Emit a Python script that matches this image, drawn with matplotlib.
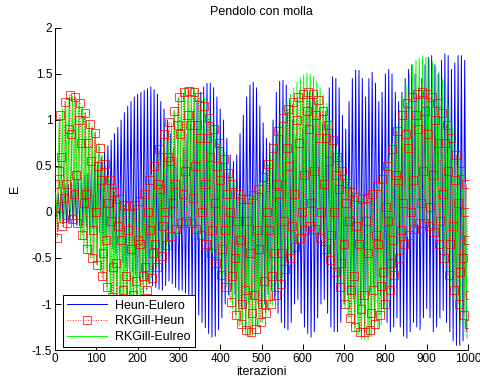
import numpy as np
import matplotlib
matplotlib.use("Agg")
import matplotlib.pyplot as plt

plt.rcParams['font.family'] = ['Liberation Sans', 'DejaVu Sans']

# Heun-Eulero: massimi (iter 0, 8, 16, ...) e minimi (iter 4, 12, 20, ...)
blue_alti = [
    0.1, 0.2, 0.25, 0.3, 0.3, 0.32, 0.35, 0.35, 0.38, 0.4,
    0.42, 0.45, 0.5, 0.55, 0.6, 0.65, 0.72, 0.78, 0.85, 0.92,
    1.0, 1.08, 1.15, 1.2, 1.25, 1.28, 1.3, 1.32, 1.34, 1.36,
    1.33, 1.28, 1.2, 1.12, 1.0, 0.85, 0.7, 0.6, 0.6, 0.7,
    0.85, 0.95, 1.1, 1.22, 1.3, 1.36, 1.4, 1.4, 1.35, 1.25,
    1.12, 1.0, 0.8, 0.62, 0.55, 0.62, 0.85, 1.05, 1.25, 1.38,
    1.41, 1.35, 1.15, 0.97, 0.8, 0.75, 1.0, 1.3, 1.42, 1.43,
    1.38, 1.2, 1.0, 0.85, 0.8, 0.9, 1.1, 1.25, 1.3, 1.2,
    1.05, 0.95, 1.1, 1.35, 1.47, 1.45, 1.35, 1.05, 0.9, 1.2,
    1.45, 1.54, 1.54, 1.45, 1.25, 1.45, 1.52, 1.4, 1.2, 1.3,
    1.5, 1.55, 1.5, 1.3, 1.2, 1.3, 1.45, 1.55, 1.6, 1.5,
    1.35, 1.45, 1.6, 1.68, 1.7, 1.6, 1.5, 1.65, 1.72, 1.7,
    1.55, 1.62, 1.7, 1.7, 1.65]
blue_bassi = [
    -0.05, -0.1, -0.12, -0.12, -0.12, -0.13, -0.14, -0.15, -0.15, -0.16,
    -0.17, -0.18, -0.2, -0.22, -0.25, -0.3, -0.35, -0.4, -0.45, -0.5,
    -0.55, -0.6, -0.62, -0.65, -0.68, -0.7, -0.72, -0.75, -0.78, -0.8,
    -0.82, -0.84, -0.85, -0.8, -0.75, -0.78, -0.82, -0.85, -0.85, -0.88,
    -0.92, -0.98, -1.05, -1.12, -1.2, -1.26, -1.32, -1.36, -1.35, -1.28,
    -1.15, -1.0, -0.9, -0.85, -0.9, -1.0, -1.05, -1.05, -1.0, -0.95,
    -0.95, -1.0, -1.05, -1.0, -0.9, -0.85, -0.95, -1.1, -1.2, -1.26,
    -1.28, -1.2, -1.0, -0.95, -1.1, -1.25, -1.32, -1.36, -1.3, -1.15,
    -1.0, -0.95, -1.1, -1.25, -1.3, -1.3, -1.2, -1.0, -0.9, -0.9,
    -0.95, -1.0, -1.0, -0.95, -0.9, -0.85, -0.82, -0.8, -0.9, -1.05,
    -1.2, -1.3, -1.25, -1.15, -1.25, -1.35, -1.37, -1.3, -1.2, -1.25,
    -1.28, -1.15, -1.05, -1.15, -1.3, -1.25, -1.15, -1.07, -1.2, -1.3,
    -1.4, -1.45, -1.45, -1.4, -1.3]

# RKGill-Eulreo: massimi (iter 2, 10, ...) e minimi (iter 6, 14, ...)
green_alti = [
    0.2, 1.0, 1.12, 1.2, 1.25, 1.26, 1.25, 1.2, 1.15, 1.08,
    1.0, 0.93, 0.87, 0.75, 0.62, 0.5, 0.4, 0.3, 0.22, 0.15,
    0.1, 0.08, 0.06, 0.06, 0.08, 0.1, 0.15, 0.22, 0.3, 0.4,
    0.5, 0.6, 0.7, 0.78, 0.86, 0.97, 1.1, 1.24, 1.32, 1.35,
    1.36, 1.36, 1.35, 1.33, 1.3, 1.24, 1.15, 1.05, 0.95, 0.85,
    0.75, 0.65, 0.53, 0.42, 0.34, 0.28, 0.22, 0.18, 0.16, 0.17,
    0.2, 0.25, 0.32, 0.42, 0.52, 0.63, 0.75, 0.87, 0.98, 1.1,
    1.2, 1.28, 1.35, 1.41, 1.46, 1.49, 1.51, 1.5, 1.47, 1.42,
    1.35, 1.27, 1.18, 1.0, 0.82, 0.7, 0.6, 0.5, 0.4, 0.32,
    0.25, 0.2, 0.17, 0.15, 0.15, 0.18, 0.22, 0.27, 0.32, 0.38,
    0.48, 0.6, 0.75, 0.92, 1.1, 1.24, 1.38, 1.5, 1.6, 1.65,
    1.67, 1.69, 1.68, 1.66, 1.63, 1.58, 1.52, 1.45, 1.38, 1.15,
    0.95, 0.78, 0.62, 0.45, 0.32]
green_bassi = [
    -0.2, -0.12, -0.08, -0.05, -0.03, -0.05, -0.15, -0.3, -0.38, -0.45,
    -0.5, -0.54, -0.58, -0.65, -0.75, -0.85, -0.92, -0.98, -1.02, -1.05,
    -1.07, -1.08, -1.08, -1.06, -1.03, -0.98, -0.92, -0.85, -0.77, -0.68,
    -0.6, -0.53, -0.46, -0.4, -0.35, -0.3, -0.25, -0.2, -0.16, -0.15,
    -0.16, -0.2, -0.25, -0.28, -0.3, -0.33, -0.38, -0.44, -0.5, -0.6,
    -0.7, -0.8, -0.92, -1.05, -1.16, -1.24, -1.3, -1.34, -1.36, -1.35,
    -1.32, -1.26, -1.2, -1.14, -1.08, -1.02, -0.94, -0.84, -0.74, -0.62,
    -0.52, -0.45, -0.4, -0.33, -0.25, -0.18, -0.15, -0.14, -0.16, -0.22,
    -0.3, -0.4, -0.48, -0.55, -0.65, -0.78, -0.9, -1.05, -1.15, -1.25,
    -1.3, -1.34, -1.38, -1.39, -1.39, -1.36, -1.32, -1.28, -1.22, -1.12,
    -1.0, -0.85, -0.7, -0.56, -0.44, -0.34, -0.27, -0.21, -0.16, -0.13,
    -0.12, -0.12, -0.14, -0.18, -0.24, -0.32, -0.42, -0.55, -0.68, -0.82,
    -0.95, -1.08, -1.2, -1.3, -1.37]

# RKGill-Heun: per ogni ciclo di 12 iterazioni -> alto, medio, basso, medio
red_alti = [
    0.3, 1.05, 1.2, 1.27, 1.25, 1.18, 1.08, 0.96, 0.86, 0.7,
    0.52, 0.35, 0.22, 0.14, 0.08, 0.06, 0.08, 0.12, 0.2, 0.35,
    0.5, 0.68, 0.85, 0.98, 1.1, 1.25, 1.3, 1.32, 1.3, 1.25,
    1.15, 1.02, 0.9, 0.75, 0.58, 0.42, 0.3, 0.2, 0.14, 0.14,
    0.18, 0.25, 0.38, 0.52, 0.7, 0.88, 1.02, 1.12, 1.2, 1.25,
    1.28, 1.3, 1.28, 1.22, 1.1, 0.95, 0.78, 0.6, 0.45, 0.32,
    0.22, 0.16, 0.14, 0.15, 0.2, 0.28, 0.36, 0.5, 0.68, 0.88,
    1.05, 1.18, 1.25, 1.28, 1.3, 1.28, 1.25, 1.18, 1.08, 0.95,
    0.8, 0.62, 0.45, 0.3]
red_medi = [
    0.05, 0.6, 0.3, 0.85, 0.4, 0.75, 0.2, 0.55, 0.0, 0.35,
    -0.3, -0.1, -0.55, -0.3, -0.7, -0.4, -0.75, -0.35, -0.6, -0.2,
    -0.35, 0.25, 0.0, 0.55, 0.3, 0.85, 0.45, 0.95, 0.5, 0.8,
    0.3, 0.6, 0.1, 0.35, -0.2, 0.0, -0.5, -0.3, -0.85, -0.45,
    -0.9, -0.4, -0.75, -0.2, -0.45, 0.2, -0.1, 0.5, 0.2, 0.75,
    0.4, 0.9, 0.45, 0.8, 0.3, 0.55, 0.0, 0.25, -0.35, -0.1,
    -0.7, -0.35, -0.9, -0.45, -0.85, -0.35, -0.65, -0.1, -0.3, 0.35,
    0.1, 0.7, 0.35, 0.9, 0.45, 0.85, 0.4, 0.75, 0.2, 0.45,
    -0.15, 0.1, -0.5, -0.3]
red_bassi = [
    -0.28, -0.15, -0.12, -0.08, -0.12, -0.25, -0.4, -0.5, -0.58, -0.7,
    -0.82, -0.92, -1.0, -1.05, -1.07, -1.06, -1.02, -0.95, -0.85, -0.72,
    -0.6, -0.48, -0.36, -0.26, -0.18, -0.12, -0.1, -0.12, -0.18, -0.25,
    -0.35, -0.45, -0.55, -0.68, -0.82, -0.98, -1.12, -1.22, -1.28, -1.3,
    -1.27, -1.2, -1.1, -1.0, -0.9, -0.78, -0.62, -0.5, -0.38, -0.28,
    -0.2, -0.15, -0.18, -0.28, -0.4, -0.52, -0.65, -0.82, -1.0, -1.15,
    -1.25, -1.3, -1.3, -1.28, -1.22, -1.12, -1.0, -0.85, -0.68, -0.5,
    -0.35, -0.25, -0.18, -0.12, -0.12, -0.15, -0.22, -0.35, -0.5, -0.68,
    -0.85, -1.0, -1.12, -1.22]
red_medi2 = [
    0.45, 0.15, 0.9, 0.2, 1.0, 0.1, 0.75, -0.2, 0.5, -0.45,
    0.1, -0.6, -0.15, -0.85, -0.2, -0.9, -0.3, -0.7, 0.0, -0.45,
    0.3, -0.15, 0.6, 0.1, 0.95, 0.2, 1.05, 0.15, 0.95, 0.0,
    0.8, -0.2, 0.5, -0.4, 0.2, -0.7, -0.1, -1.0, -0.1, -1.1,
    -0.2, -1.0, 0.0, -0.7, 0.3, -0.45, 0.7, -0.15, 1.0, 0.0,
    1.1, 0.1, 1.05, 0.0, 0.8, -0.25, 0.4, -0.55, 0.1, -0.85,
    -0.15, -1.05, -0.1, -1.1, -0.25, -0.8, 0.05, -0.55, 0.4, -0.2,
    0.85, 0.0, 1.05, 0.1, 1.1, 0.05, 1.0, -0.1, 0.75, -0.35,
    0.35, -0.65, 0.0, -0.9]

# serie complete
blue_y = np.column_stack([blue_alti, blue_bassi]).ravel()
blue_x = np.arange(len(blue_y)) * 4
green_y = np.column_stack([green_alti, green_bassi]).ravel()
green_x = np.arange(len(green_y)) * 4 + 2
red_y = np.column_stack([red_alti, red_medi, red_bassi, red_medi2]).ravel()
red_x = np.arange(len(red_y)) * 3

fig = plt.figure(figsize=(4.8, 3.85), dpi=100)
ax = fig.add_axes([0.1146, 0.0909, 0.8604, 0.8364])

ax.plot(blue_x, blue_y, color=(0, 0, 1), lw=0.7, label='Heun-Eulero', zorder=2)
ax.plot(red_x, red_y, color=(1, 0, 0), lw=0.7, linestyle=':', marker='s',
        markersize=5.8, markerfacecolor='none', markeredgewidth=0.6,
        alpha=0.85, label='RKGill-Heun', zorder=4)
ax.plot(green_x, green_y, color=(0, 1, 0), lw=0.7, label='RKGill-Eulreo',
        zorder=3)

ax.set_xlim(0, 1000)
ax.set_ylim(-1.5, 2)
ax.set_xticks(np.arange(0, 1001, 100))
ax.set_yticks(np.arange(-1.5, 2.01, 0.5))
ax.set_yticklabels(['-1.5', '-1', '-0.5', '0', '0.5', '1', '1.5', '2'])
ax.spines['top'].set_visible(False)
ax.spines['right'].set_visible(False)
for s in ['left', 'bottom']:
    ax.spines[s].set_linewidth(0.7)
ax.tick_params(direction='in', length=4, width=0.7, labelsize=8.5, pad=2)

ax.set_title('Pendolo con molla', fontsize=9, pad=9)
ax.set_xlabel('iterazioni', fontsize=9, labelpad=1)
ax.set_ylabel('E', fontsize=9, labelpad=8)

leg = ax.legend(loc='lower left', bbox_to_anchor=(0.019, 0.008),
                borderaxespad=0, fancybox=False, framealpha=1,
                edgecolor='black', fontsize=9, handlelength=3.2,
                borderpad=0.35, labelspacing=0.3, handletextpad=0.6)
leg.get_frame().set_linewidth(0.7)
leg.set_zorder(10)

fig.savefig('out.png', dpi=100)
